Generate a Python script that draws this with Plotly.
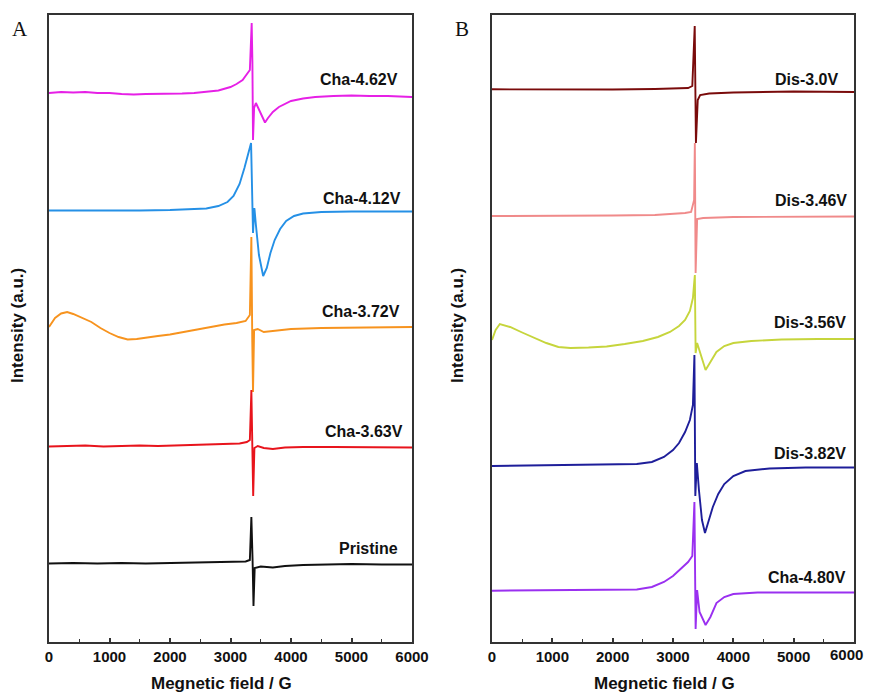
import plotly.graph_objects as go

# ---------------- Panel A data (field in G, intensity in a.u., offset stacked) ----------------
a_cha462_x = [0, 200, 400, 600, 800, 1000, 1200, 1400, 1600, 1800, 2000, 2200, 2400, 2600, 2800, 3000,
              3100, 3200, 3280, 3320, 3350, 3362, 3372, 3390, 3420, 3460, 3520, 3570, 3620, 3700, 3800,
              3900, 4000, 4200, 4400, 4700, 5000, 5300, 5600, 6000]
a_cha462_y = [549, 550, 549.5, 550, 549, 549, 548, 547.5, 548, 548, 548, 548.5, 549, 550, 551.5, 555,
              558, 562, 568, 572, 619, 580, 502, 534, 539, 534, 525, 519.5, 524, 530, 535,
              538, 541, 543.5, 545, 546, 546.5, 546, 546, 545]

a_cha412_x = [0, 500, 1000, 1500, 2000, 2400, 2600, 2800, 2950, 3050, 3150, 3230, 3290, 3340, 3372, 3395,
              3420, 3470, 3540, 3600, 3660, 3730, 3820, 3920, 4050, 4200, 4500, 5000, 6000]
a_cha412_y = [431.5, 431.5, 431, 431.5, 432, 432.5, 433.5, 436, 440, 446, 458, 474, 487, 499, 409, 434,
              417, 387, 366, 374, 389, 402, 413, 421, 426, 428.5, 430, 430.5, 430.5]

a_cha372_x = [0, 100, 200, 300, 400, 550, 700, 850, 1000, 1150, 1300, 1450, 1600, 1800, 2000, 2300, 2600,
              2900, 3100, 3250, 3320, 3345, 3360, 3372, 3390, 3450, 3550, 3650, 3800, 4000, 4500, 5000,
              5500, 6000]
a_cha372_y = [315, 324, 328.5, 330, 328, 324, 320, 314, 309, 305, 302.5, 303, 304, 306, 307.5, 311, 314,
              317.5, 319, 321, 327, 405, 300, 250, 312, 313, 310, 310.5, 312, 313, 314, 314.5,
              315, 315]

a_cha363_x = [0, 300, 600, 900, 1200, 1500, 1800, 2100, 2400, 2700, 3000, 3150, 3270, 3320, 3345, 3362,
              3375, 3395, 3450, 3550, 3700, 3900, 4200, 4700, 5200, 6000]
a_cha363_y = [195.5, 196, 196.5, 195.5, 196, 196.5, 196, 196.5, 197, 197, 198, 198.5, 200, 202, 252, 202,
              146, 194, 196, 194, 193, 194.5, 195, 195, 195, 194.5]

a_pristine_x = [0, 400, 800, 1200, 1600, 2000, 2400, 2800, 3000, 3250, 3320, 3345, 3365, 3380, 3400,
                3500, 3700, 3900, 4200, 4600, 5000, 5500, 6000]
a_pristine_y = [78.5, 79, 78.5, 79, 78.5, 79, 79.5, 79.5, 80, 80.5, 82, 125, 82, 36, 74,
                75.5, 74.5, 76, 77, 77.5, 78, 77.5, 77.5]

# ---------------- Panel B data ----------------
b_dis30_x = [0, 1000, 2000, 2700, 3000, 3250, 3320, 3360, 3380, 3410, 3450, 3600, 4000, 5000, 6000]
b_dis30_y = [552.7, 552.5, 552.5, 553, 553.5, 554, 556, 616, 499, 542, 547, 548.5, 549.5, 550.5, 550]

b_dis346_x = [0, 1000, 2000, 2700, 3000, 3200, 3300, 3350, 3362, 3375, 3400, 3500, 4000, 5000, 6000]
b_dis346_y = [426, 426, 426.5, 427, 428, 429, 430, 442, 499, 369, 423, 424, 425, 425.5, 425.5]

b_dis356_x = [0, 60, 130, 300, 500, 700, 900, 1100, 1300, 1600, 1900, 2200, 2500, 2750, 2950, 3100,
              3200, 3280, 3330, 3362, 3375, 3400, 3450, 3540, 3620, 3720, 3850, 4000, 4300, 4800,
              5400, 6000]
b_dis356_y = [302, 312, 318, 315, 309.5, 304, 299, 295, 294, 294.5, 295.5, 298, 301, 305, 310, 316,
              322, 331, 344, 367, 289, 299, 290, 272, 280, 290, 296, 299, 301, 302.5,
              303, 303]

b_dis382_x = [0, 500, 1000, 1500, 2000, 2400, 2650, 2850, 3000, 3100, 3200, 3280, 3330, 3355, 3370,
              3395, 3430, 3480, 3530, 3590, 3660, 3750, 3850, 4000, 4200, 4600, 5200, 6000]
b_dis382_y = [176, 176.5, 177, 177, 177.5, 178, 180, 185, 192, 199, 210, 222, 237, 287, 146,
              179, 152, 122, 109, 120, 135, 148, 158, 166, 171, 173.5, 174.5, 174.5]

b_cha480_x = [0, 500, 1000, 1500, 2000, 2400, 2650, 2850, 3000, 3150, 3250, 3320, 3355, 3375, 3400,
              3440, 3540, 3620, 3720, 3850, 4000, 4400, 5000, 6000]
b_cha480_y = [51.3, 51.5, 52, 51.5, 52, 52.5, 55, 60, 66, 74, 80, 86, 140, 13, 52,
              30, 17, 25, 39, 45, 48, 49.5, 49.5, 49.5]

x_ticks = [0, 1000, 2000, 3000, 4000, 5000, 6000]
x_tick_labels = ["0", "1000", "2000", "3000", "4000", "5000", "6000"]

panel_a = [
    ("Cha-4.62V", a_cha462_x, a_cha462_y, "#E620E6", 5802, 563),
    ("Cha-4.12V", a_cha412_x, a_cha412_y, "#2590E6", 5851, 444),
    ("Cha-3.72V", a_cha372_x, a_cha372_y, "#F7931E", 5835, 331),
    ("Cha-3.63V", a_cha363_x, a_cha363_y, "#E8141C", 5884, 211),
    ("Pristine", a_pristine_x, a_pristine_y, "#111111", 5802, 94),
]
panel_b = [
    ("Dis-3.0V", b_dis30_x, b_dis30_y, "#7A0B0B", 5768, 563),
    ("Dis-3.46V", b_dis346_x, b_dis346_y, "#F08A8A", 5917, 442),
    ("Dis-3.56V", b_dis356_x, b_dis356_y, "#C6D53C", 5900, 320),
    ("Dis-3.82V", b_dis382_x, b_dis382_y, "#1E1E9A", 5900, 189),
    ("Cha-4.80V", b_cha480_x, b_cha480_y, "#9A30F0", 5900, 65),
]

SANS = "Liberation Sans, Arial"

fig = go.Figure()
annotations = []
for axis_suffix, panel in (("", panel_a), ("2", panel_b)):
    for name, xs, ys, color, lx, ly in panel:
        fig.add_trace(go.Scatter(x=xs, y=ys, mode="lines", name=name,
                                 line=dict(color=color, width=1.9),
                                 xaxis="x" + axis_suffix, yaxis="y" + axis_suffix,
                                 showlegend=False))
        annotations.append(dict(x=lx, y=ly, xref="x" + axis_suffix, yref="y" + axis_suffix,
                                text=name, showarrow=False, xanchor="right", yanchor="middle",
                                font=dict(family=SANS, size=16, color="#111", weight="bold")))

# The page is shown with an 8px body margin and the figure fills the remaining width.
OFF = 8
H = 695
FW = 873 - 2 * OFF           # figure width as laid out in the page
MT = 15 - OFF                 # plot top at page y = 15
MB = H - (642 - OFF)          # plot bottom at page y = 642
PH = H - MT - MB

def px(sx):
    return (sx - OFF) / FW

def py(sy):
    return (642 - sy) / PH

for letter, sx in (("A", 20), ("B", 462)):
    annotations.append(dict(x=px(sx), y=py(29), xref="paper", yref="paper", text=letter,
                            showarrow=False, xanchor="center", yanchor="middle",
                            font=dict(family="Liberation Serif, Times New Roman", size=21, color="#111")))
for sx in (17, 457):
    annotations.append(dict(x=px(sx), y=py(326), xref="paper", yref="paper",
                            text="Intensity (a.u.)", textangle=-90, showarrow=False,
                            xanchor="center", yanchor="middle",
                            font=dict(family=SANS, size=17, color="#111", weight="bold")))
for sx in (221, 664):
    annotations.append(dict(x=px(sx), y=py(683), xref="paper", yref="paper",
                            text="Megnetic field / G", showarrow=False,
                            xanchor="center", yanchor="middle",
                            font=dict(family=SANS, size=17, color="#111", weight="bold")))
# last tick label of panel B sits at the page edge: keep it inside the figure
annotations.append(dict(x=1, y=py(654.5), xref="paper", yref="paper", text=x_tick_labels[-1],
                        showarrow=False, xanchor="right", yanchor="middle",
                        font=dict(family=SANS, size=15, color="#111", weight="bold")))

tick_font = dict(family=SANS, size=15, color="#111", weight="bold")
xaxis_common = dict(range=[0, 6000], tickvals=x_ticks, ticks="inside", ticklen=4, tickwidth=1.5,
                    tickcolor="#333", showline=True, linecolor="#333", linewidth=1.6, mirror=True,
                    showgrid=False, zeroline=False, automargin=False,
                    minor=dict(dtick=500, ticks="inside", ticklen=3, tickcolor="#333", tickwidth=1.2),
                    tickfont=tick_font)
yaxis_common = dict(range=[0, 627], showticklabels=False, ticks="", showline=True, linecolor="#333",
                    linewidth=1.6, mirror=True, showgrid=False, zeroline=False, automargin=False)

fig.update_layout(
    width=FW, height=H,
    margin=dict(l=0, r=0, t=MT, b=MB),
    paper_bgcolor="white", plot_bgcolor="white",
    xaxis=dict(domain=[px(49), px(412)], anchor="y", ticktext=x_tick_labels, **xaxis_common),
    yaxis=dict(domain=[0, 1], anchor="x", **yaxis_common),
    xaxis2=dict(domain=[px(492), px(854)], anchor="y2", ticktext=x_tick_labels[:-1] + [""],
                **xaxis_common),
    yaxis2=dict(domain=[0, 1], anchor="x2", **yaxis_common),
    annotations=annotations,
)

fig.write_html("out.html")
